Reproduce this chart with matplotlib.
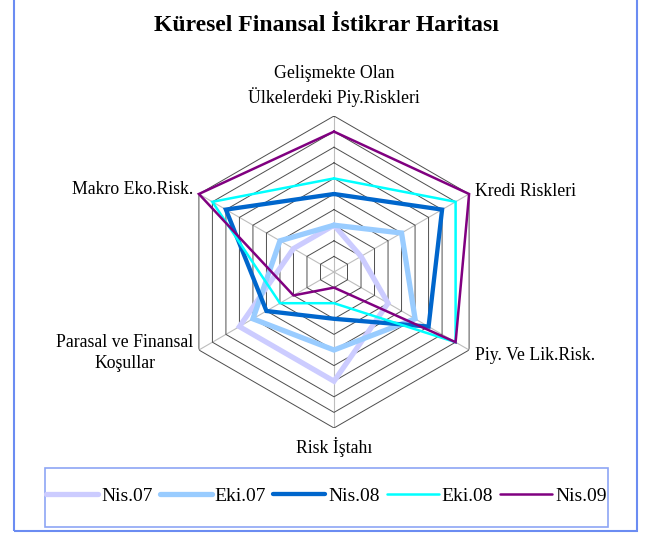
#%% imports
import numpy as np
import matplotlib
matplotlib.use("Agg")
import matplotlib.pyplot as plt
from matplotlib.patches import Rectangle

plt.rcParams['font.family'] = ['Liberation Serif', 'DejaVu Serif']

#%% data
categories = ["Gelişmekte Olan\nÜlkelerdeki Piy.Riskleri", "Kredi Riskleri", "Piy. Ve Lik.Risk.",
              "Risk İştahı", "Parasal ve Finansal\nKoşullar", "Makro Eko.Risk."]
series_names = ["Nis.07", "Eki.07", "Nis.08", "Eki.08", "Nis.09"]
nis07 = [3, 2, 4, 7, 7, 3]
eki07 = [3, 5, 6, 5, 6, 4]
nis08 = [5, 8, 7, 3, 5, 8]
eki08 = [6, 9, 9, 2, 4, 9]
nis09 = [9, 10, 9, 1, 3, 10]
levels = list(range(1, 11))

colors = ["#CCCCFF", "#99CCFF", "#0066CC", "#00FFFF", "#800080"]
widths = [3.8, 3.8, 3.1, 1.8, 1.8]

#%% figure
fig = plt.figure(figsize=(6.49, 5.33), dpi=100)
# outer frame and legend box
fig.patches.append(Rectangle((14 / 649, 2 / 533), 623 / 649, 1.2, transform=fig.transFigure,
                             fill=False, edgecolor="#6B8CF2", lw=1.5))
fig.patches.append(Rectangle((45 / 649, 1 - 527 / 533), 563 / 649, 59 / 533, transform=fig.transFigure,
                             fill=False, edgecolor="#8EA6F5", lw=1.2))

ax = fig.add_axes([178 / 649, 105 / 533, 312 / 649, 312 / 533], projection="polar")
ax.set_theta_zero_location("N")
ax.set_theta_direction(-1)
ax.set_ylim(0, 10)
ax.grid(False)
ax.set_xticks([])
ax.set_yticks([])
ax.spines["polar"].set_visible(False)
ax.patch.set_visible(False)

angles = np.linspace(0, 2 * np.pi, len(categories), endpoint=False)
closed = np.append(angles, angles[0])

# spokes + hexagon grid
for a in angles:
    ax.plot([a, a], [0, 10], color="#BDBDBD", lw=0.8, zorder=1)
for r in levels:
    ax.plot(closed, [r] * len(closed), color="#4D4D4D", lw=0.7, zorder=1)

for name, vals, c, w in zip(series_names, [nis07, eki07, nis08, eki08, nis09], colors, widths):
    v = vals + vals[:1]
    ax.plot(closed, v, color=c, lw=w, label=name, clip_on=False, zorder=3,
            solid_joinstyle="miter", solid_capstyle="round")

# category labels
label_pos = [((0, 6.8), "center", "bottom"), ((4, 2), "left", "center"), ((4, -4), "left", "center"),
             ((0, -6.5), "center", "top"), ((-4, -2), "right", "center"), ((-4, 3), "right", "center")]
for a, lab, (off, ha, va) in zip(angles, categories, label_pos):
    ax.annotate(lab, xy=(a, 10), xytext=off, textcoords="offset points", ha=ha, va=va,
                fontsize=12.8, multialignment="center", linespacing=1.3, annotation_clip=False)

fig.text(0.503, 1 - 25.5 / 533, "Küresel Finansal İstikrar Haritası", ha="center", va="center",
         fontsize=17, fontweight="bold")

leg = fig.legend(loc="center", bbox_to_anchor=(326.5 / 649, 1 - 496 / 533), ncol=5, fontsize=14,
                 handlelength=2.68, handletextpad=0.15, columnspacing=0.36, frameon=False)

fig.savefig("out.png", dpi=100)
